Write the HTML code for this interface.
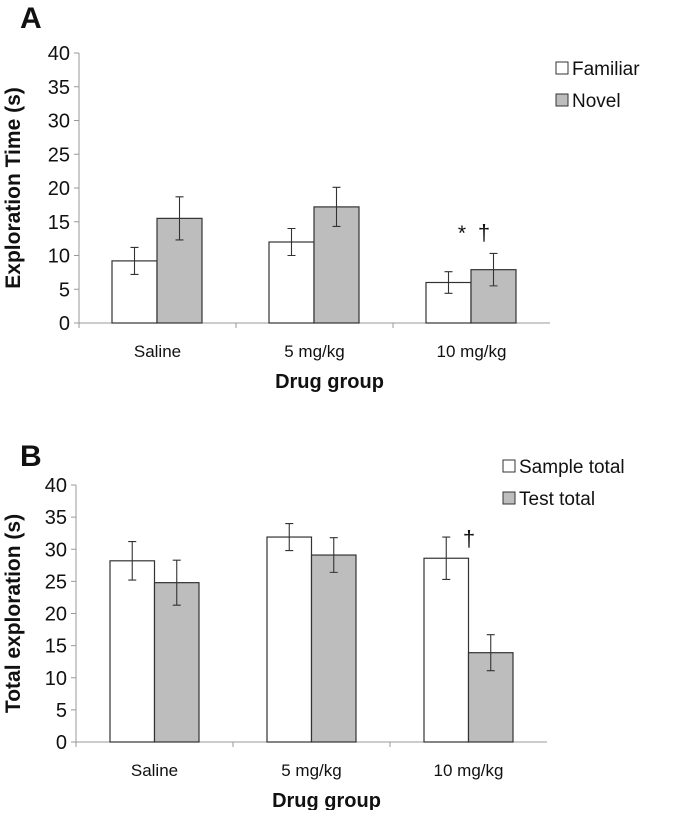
<!DOCTYPE html>
<html><head><meta charset="utf-8"><style>
body{margin:0;background:#fff;}
svg text{font-family:"Liberation Sans",Arial,sans-serif;fill:#111;}
</style></head><body>
<svg width="675" height="810" xmlns="http://www.w3.org/2000/svg" id="root">
<g id="chartA"></g>
<g id="chartB"></g>
</svg>
<script>
const categories = ["Saline", "5 mg/kg", "10 mg/kg"];
const yTicks = [0, 5, 10, 15, 20, 25, 30, 35, 40];
const aFamiliar = [9.2, 12.0, 6.0];
const aFamiliarErr = [2.0, 2.0, 1.6];
const aNovel = [15.5, 17.2, 7.9];
const aNovelErr = [3.2, 2.9, 2.4];
const bSample = [28.2, 31.9, 28.6];
const bSampleErr = [3.0, 2.1, 3.3];
const bTest = [24.8, 29.1, 13.9];
const bTestErr = [3.5, 2.7, 2.8];

const NS = "http://www.w3.org/2000/svg";
function mk(parent, tag, attrs, text){
  const e = document.createElementNS(NS, tag);
  for (const k in attrs) e.setAttribute(k, attrs[k]);
  if (text !== undefined) e.textContent = text;
  parent.appendChild(e);
  return e;
}

function drawChart(g, cfg){
  const x0 = cfg.x0, y0 = cfg.y0, yTop = cfg.yTop, cw = cfg.cw;
  const ys = v => y0 - (v / 40) * (y0 - yTop);
  const xEnd = x0 + cw * categories.length;
  const ya = mk(g, "line", {x1:x0, y1:yTop, x2:x0, y2:y0+5, stroke:"#999", "stroke-width":1});
  
  
  const xa = mk(g, "line", {x1:x0, y1:y0, x2:xEnd, y2:y0, stroke:"#999", "stroke-width":1});
  
  
  yTicks.forEach(t => {
    const y = ys(t);
    const tk = mk(g, "line", {x1:x0-5, y1:y, x2:x0, y2:y, stroke:"#999"});
    
    
    const tl = mk(g, "text", {x:x0-9, y:y+7, "font-size":20, "text-anchor":"end"}, String(t));
    
    
  });
  for (let i = 1; i < categories.length; i++){
    const tk = mk(g, "line", {x1:x0+cw*i, y1:y0, x2:x0+cw*i, y2:y0+5, stroke:"#999"});
    
    
  }
  categories.forEach((c, i) => {
    const tl = mk(g, "text", {x:x0+cw*i+cw/2, y:y0+34, "font-size":17, "text-anchor":"middle"}, c);
    
    
  });
  const series = [[cfg.s1, cfg.e1, "#fff"], [cfg.s2, cfg.e2, "#bdbdbd"]];
  series.forEach((s, si) => {
    s[0].forEach((v, i) => {
      const bx = x0 + cw*i + cfg.off + si*cfg.bw;
      const r = mk(g, "rect", {x:bx, y:ys(v), width:cfg.bw, height:y0-ys(v), fill:s[2], stroke:"#333", "stroke-width":1.2});
      
      
      const cx = bx + cfg.bw/2, e = s[1][i];
      const eb = mk(g, "path", {d:`M${cx},${ys(v+e)}V${ys(v-e)}M${cx-4},${ys(v+e)}H${cx+4}M${cx-4},${ys(v-e)}H${cx+4}`, stroke:"#333", "stroke-width":1.1, fill:"none"});
      
      
    });
  });
  const yt = mk(g, "text", {transform:`translate(${cfg.ytX},${(yTop+y0)/2}) rotate(-90)`, "font-size":21, "font-weight":"bold", "text-anchor":"middle"}, cfg.ytitle);
  
  
  const xt = mk(g, "text", {x:(x0+xEnd)/2+15, y:y0+65, "font-size":20, "font-weight":"bold", "text-anchor":"middle"}, "Drug group");
  
  
  const pl = mk(g, "text", {x:cfg.plX, y:cfg.plY, "font-size":30, "font-weight":"bold"}, cfg.label);
  
  
  cfg.legend.forEach((l, i) => {
    const ly = cfg.legY + i*32;
    const b = mk(g, "rect", {x:cfg.legX, y:ly, width:12, height:12, fill:i?"#bdbdbd":"#fff", stroke:"#333"});
    
    
    const t = mk(g, "text", {x:cfg.legX+16, y:ly+13, "font-size":19}, l);
    
    
  });
}

const gA = document.getElementById("chartA");
drawChart(gA, {x0:79, y0:323, yTop:53, cw:157, off:33, bw:45, s1:aFamiliar, e1:aFamiliarErr, s2:aNovel, e2:aNovelErr,
  names:["familiar","novel"], ytitle:"Exploration Time (s)", ytX:20, label:"A", plX:20, plY:28,
  legend:["Familiar","Novel"], legX:556, legY:62});
const sA = mk(gA, "text", {x:462, y:240, "font-size":21, "text-anchor":"middle"}, "*");


const dA = mk(gA, "text", {x:484, y:240, "font-size":22, "text-anchor":"middle"}, "†");



const gB = document.getElementById("chartB");
drawChart(gB, {x0:76, y0:742, yTop:485, cw:157, off:34, bw:44.5, s1:bSample, e1:bSampleErr, s2:bTest, e2:bTestErr,
  names:["sample","test"], ytitle:"Total exploration (s)", ytX:20, label:"B", plX:20, plY:466,
  legend:["Sample total","Test total"], legX:503, legY:460});
const dB = mk(gB, "text", {x:469, y:546, "font-size":22, "text-anchor":"middle"}, "†");


</script>
</body></html>
